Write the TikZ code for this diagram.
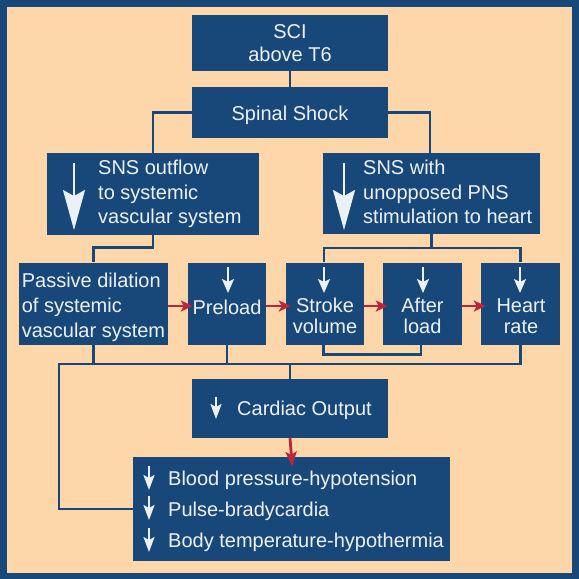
\documentclass[tikz,border=0pt]{standalone}
\usepackage{fontspec}
\setmainfont{Liberation Sans}
\usetikzlibrary{arrows.meta,calc}
\definecolor{dblue}{RGB}{24,72,122}
\definecolor{peach}{RGB}{253,215,170}
\definecolor{ltext}{RGB}{236,241,247}
\definecolor{rarrow}{RGB}{186,38,58}
\begin{document}
\begin{tikzpicture}[x=1pt,y=-1pt,
  box/.style={fill=dblue, draw=none, inner sep=0pt},
  txt/.style={text=ltext, inner sep=0pt, font=\fontsize{20}{24.5}\selectfont, align=left},
  ctxt/.style={text=ltext, inner sep=0pt, font=\fontsize{20}{21}\selectfont, align=center},
  conn/.style={draw=dblue, line width=2.8pt},
  redarr/.style={draw=rarrow, line width=2.8pt, -{Stealth[length=12pt,width=11pt,inset=3pt]}, shorten >=-5pt},
  bigarr/.style={draw=ltext, line width=2pt, -{Stealth[length=40pt,width=22pt,inset=6pt]}},
  smallarr/.style={draw=ltext, line width=2.2pt, -{Stealth[length=14pt,width=12pt,inset=3pt]}},
  tinyarr/.style={draw=ltext, line width=2.2pt, -{Stealth[length=15pt,width=11pt,inset=3pt]}},
]
% frame
\fill[dblue] (0,0) rectangle (579,579);
\fill[peach] (7,7) rectangle (572,573);
\useasboundingbox (0,0) rectangle (579,579);

% boxes
\node[box, minimum width=196pt, minimum height=56pt] (sci) at (290,43) {};
\node[box, minimum width=196pt, minimum height=51pt] (spinal) at (290,112.5) {};
\node[box, minimum width=212pt, minimum height=82pt] (sout) at (153,194) {};
\node[box, minimum width=217pt, minimum height=81pt] (swith) at (431.5,193.5) {};
\node[box, minimum width=149pt, minimum height=82pt] (passive) at (93.5,303.5) {};
\node[box, minimum width=78pt, minimum height=82pt] (preload) at (227,303.5) {};
\node[box, minimum width=78pt, minimum height=82pt] (stroke) at (325,303.5) {};
\node[box, minimum width=79pt, minimum height=82pt] (after) at (422.5,303.5) {};
\node[box, minimum width=79pt, minimum height=82pt] (heart) at (520.5,303.5) {};
\node[box, minimum width=196pt, minimum height=59pt] (cardiac) at (290,408.5) {};
\node[box, minimum width=317pt, minimum height=104pt] (results) at (291.5,509) {};

% texts
\node[ctxt, font=\fontsize{20}{23}\selectfont] (sci-t) at (290,43.3) {SCI\\above T6};
\node[ctxt] (spinal-t) at (290,115) {Spinal Shock};
\node[txt, anchor=west] (sout-t) at (98,194.3) {SNS outflow\\to systemic\\vascular system};
\node[txt, anchor=west] (swith-t) at (363,192.2) {SNS with\\unopposed PNS\\stimulation to heart};
\node[txt, font=\fontsize{20}{25}\selectfont] (passive-t) at (93.5,307) {Passive dilation\\of systemic\\vascular system};
\node[ctxt] (preload-t) at (227,307) {Preload};
\node[ctxt] (stroke-t) at (325,316) {Stroke\\volume};
\node[ctxt] (after-t) at (422.5,316) {After\\load};
\node[ctxt] (heart-t) at (521,316) {Heart\\rate};
\node[txt, anchor=west] (cardiac-t) at (237,410) {Cardiac Output};
\node[txt, anchor=west, font=\fontsize{20}{31}\selectfont] (results-t) at (168,511) {Blood pressure-hypotension\\Pulse-bradycardia\\Body temperature-hypothermia};

% white arrows
\draw[bigarr] (74,163) -- (74,230);
\draw[bigarr] (344,163) -- (344,230);
\draw[smallarr] (228,267) -- (228,293);
\draw[smallarr] (324,267) -- (324,293);
\draw[smallarr] (423,267) -- (423,293);
\draw[smallarr] (520,267) -- (520,293);
\draw[tinyarr] (216,397) -- (216,419);
\draw[tinyarr] (149,466) -- (149,490);
\draw[tinyarr] (149,496) -- (149,520);
\draw[tinyarr] (149,528) -- (149,552);

% connectors
\coordinate (swj) at (431.5,248);
\coordinate (busl) at (59,364);
\draw[conn] (sci.south) -- (spinal.north);
\draw[conn] (spinal.west) -| (sout.north);
\draw[conn] (spinal.east) -| ([xshift=-1.5pt]swith.north);
\draw[conn] (sout.south) -- ++(0,12.5) -| (passive.north);
\draw[conn] (swith.south) -- (swj);
\draw[conn] ([xshift=-1pt]stroke.north) |- (swj) -| (heart.north);
\draw[conn] ([xshift=-1.5pt]stroke.south) -- ++(0,10) -| ([xshift=-1.5pt]after.south);
\draw[conn] (passive.south) -- (passive.south |- busl);
\draw[conn] (preload.south) -- (preload.south |- busl);
\draw[conn] (cardiac.north) -- (cardiac.north |- busl);
\draw[conn] (heart.south) |- (busl) |- (results.west);

% red arrows
\draw[redarr] ([yshift=-2.5pt]passive.east) -- ([yshift=-2.5pt]preload.west);
\draw[redarr] ([yshift=-2.5pt]preload.east) -- ([yshift=-2.5pt]stroke.west);
\draw[redarr] ([yshift=-2.5pt]stroke.east) -- ([yshift=-2.5pt]after.west);
\draw[redarr] ([yshift=-2.5pt]after.east) -- ([yshift=-2.5pt]heart.west);
\draw[redarr, shorten >=-10pt, -{Stealth[length=15pt,width=11pt,inset=3pt]}] (cardiac.south) -- (results.north);
\end{tikzpicture}
\end{document}
